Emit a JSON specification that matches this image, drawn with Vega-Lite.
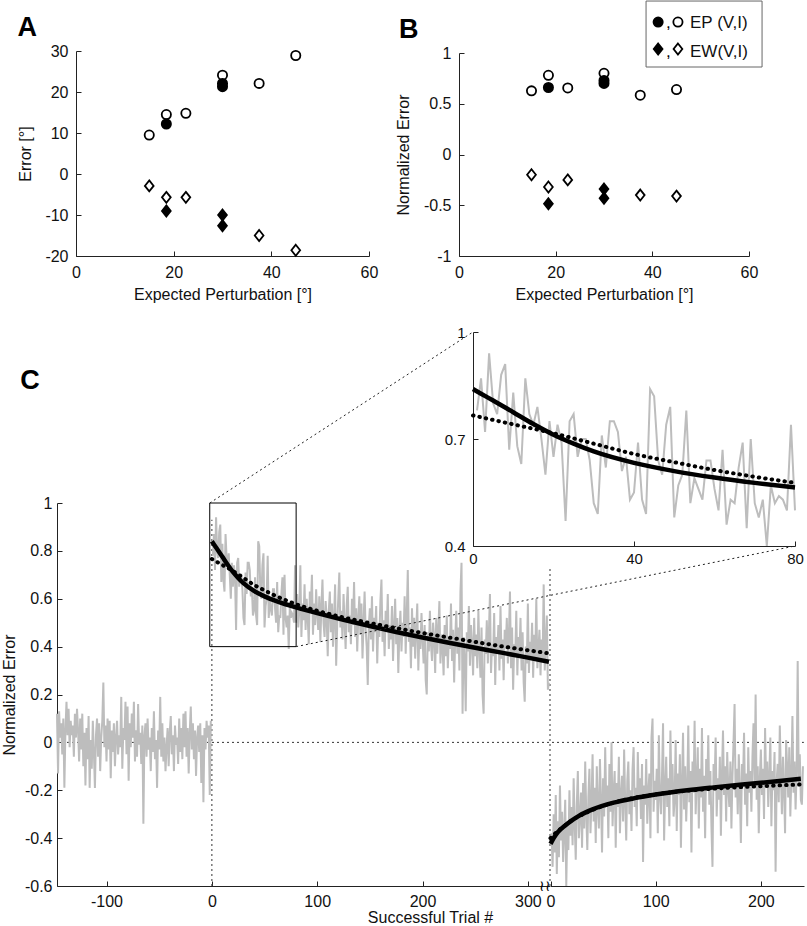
{
  "$schema": "https://vega.github.io/schema/vega-lite/v6.json",
  "width": 807,
  "height": 926,
  "padding": 0,
  "autosize": {"type": "none"},
  "background": "white",
  "config": {
    "view": {"stroke": null},
    "font": "Liberation Sans",
    "axis": {
      "grid": false,
      "domainColor": "#222222",
      "tickColor": "#222222",
      "tickSize": -5,
      "labelFont": "Liberation Sans",
      "labelFontSize": 16,
      "labelColor": "#111111",
      "titleFont": "Liberation Sans",
      "titleFontSize": 16,
      "titleFontWeight": "normal",
      "titleColor": "#111111",
      "labelPadding": 12,
      "labelOverlap": false,
      "labelFlush": false,
      "labelExpr": "datum.value + ''"
    }
  },
  "datasets": {
    "scatter": [
      {"expected": 15, "errorDeg": 9.5, "normalized": 0.627, "kind": "EP", "cond": "I"},
      {"expected": 18.5, "errorDeg": 14.5, "normalized": 0.78, "kind": "EP", "cond": "I"},
      {"expected": 22.5, "errorDeg": 14.8, "normalized": 0.656, "kind": "EP", "cond": "I"},
      {"expected": 30, "errorDeg": 24.1, "normalized": 0.8, "kind": "EP", "cond": "I"},
      {"expected": 37.5, "errorDeg": 22.1, "normalized": 0.584, "kind": "EP", "cond": "I"},
      {"expected": 45, "errorDeg": 28.9, "normalized": 0.64, "kind": "EP", "cond": "I"},
      {"expected": 15, "errorDeg": -2.9, "normalized": -0.2, "kind": "EW", "cond": "I"},
      {"expected": 18.5, "errorDeg": -5.7, "normalized": -0.32, "kind": "EW", "cond": "I"},
      {"expected": 22.5, "errorDeg": -5.7, "normalized": -0.25, "kind": "EW", "cond": "I"},
      {"expected": 37.5, "errorDeg": -15, "normalized": -0.4, "kind": "EW", "cond": "I"},
      {"expected": 45, "errorDeg": -18.6, "normalized": -0.41, "kind": "EW", "cond": "I"},
      {"expected": 18.5, "errorDeg": 12.2, "normalized": 0.66, "kind": "EP", "cond": "V"},
      {"expected": 30, "errorDeg": 22.1, "normalized": 0.73, "kind": "EP", "cond": "V"},
      {"expected": 30, "errorDeg": 21.3, "normalized": 0.7, "kind": "EP", "cond": "V"},
      {"expected": 18.5, "errorDeg": -9, "normalized": -0.486, "kind": "EW", "cond": "V"},
      {"expected": 30, "errorDeg": -10, "normalized": -0.34, "kind": "EW", "cond": "V"},
      {"expected": 30, "errorDeg": -12.6, "normalized": -0.43, "kind": "EW", "cond": "V"}
    ],
    "baseline": [
      {"trial":-147,"error":0.12},{"trial":-146,"error":-0.13},{"trial":-145,"error":0.13},{"trial":-144,"error":0.02},{"trial":-143,"error":0.08},{"trial":-142,"error":-0.05},{"trial":-141,"error":0.10},{"trial":-140,"error":-0.19},{"trial":-139,"error":0.05},{"trial":-138,"error":0.17},
      {"trial":-137,"error":0.03},{"trial":-136,"error":0.14},{"trial":-135,"error":-0.02},{"trial":-134,"error":0.09},{"trial":-133,"error":0.03},{"trial":-132,"error":0.07},{"trial":-131,"error":-0.06},{"trial":-130,"error":0.12},{"trial":-129,"error":0.02},{"trial":-128,"error":0.14},
      {"trial":-127,"error":0.05},{"trial":-126,"error":-0.08},{"trial":-125,"error":0.10},{"trial":-124,"error":-0.03},{"trial":-123,"error":0.12},{"trial":-122,"error":-0.10},{"trial":-121,"error":0.04},{"trial":-120,"error":-0.18},{"trial":-119,"error":0.06},{"trial":-118,"error":-0.07},
      {"trial":-117,"error":0.11},{"trial":-116,"error":-0.19},{"trial":-115,"error":0.01},{"trial":-114,"error":-0.11},{"trial":-113,"error":0.09},{"trial":-112,"error":-0.04},{"trial":-111,"error":-0.19},{"trial":-110,"error":0.03},{"trial":-109,"error":0.10},{"trial":-108,"error":-0.06},
      {"trial":-107,"error":0.08},{"trial":-106,"error":-0.12},{"trial":-105,"error":0.02},{"trial":-104,"error":0.09},{"trial":-103,"error":0.25},{"trial":-102,"error":-0.02},{"trial":-101,"error":0.07},{"trial":-100,"error":-0.08},{"trial":-99,"error":0.10},{"trial":-98,"error":-0.03},
      {"trial":-97,"error":0.09},{"trial":-96,"error":-0.15},{"trial":-95,"error":0.05},{"trial":-94,"error":-0.04},{"trial":-93,"error":0.08},{"trial":-92,"error":-0.10},{"trial":-91,"error":0.02},{"trial":-90,"error":0.09},{"trial":-89,"error":-0.05},{"trial":-88,"error":0.03},
      {"trial":-87,"error":-0.02},{"trial":-86,"error":0.19},{"trial":-85,"error":-0.11},{"trial":-84,"error":0.06},{"trial":-83,"error":0.01},{"trial":-82,"error":0.17},{"trial":-81,"error":-0.05},{"trial":-80,"error":0.15},{"trial":-79,"error":-0.16},{"trial":-78,"error":0.08},
      {"trial":-77,"error":-0.02},{"trial":-76,"error":0.12},{"trial":-75,"error":0.02},{"trial":-74,"error":0.17},{"trial":-73,"error":-0.08},{"trial":-72,"error":0.05},{"trial":-71,"error":-0.06},{"trial":-70,"error":0.16},{"trial":-69,"error":-0.01},{"trial":-68,"error":0.04},
      {"trial":-67,"error":-0.09},{"trial":-66,"error":0.07},{"trial":-65,"error":-0.34},{"trial":-64,"error":0.03},{"trial":-63,"error":0.08},{"trial":-62,"error":-0.06},{"trial":-61,"error":0.10},{"trial":-60,"error":-0.03},{"trial":-59,"error":0.02},{"trial":-58,"error":-0.12},
      {"trial":-57,"error":0.06},{"trial":-56,"error":-0.04},{"trial":-55,"error":0.13},{"trial":-54,"error":-0.07},{"trial":-53,"error":0.01},{"trial":-52,"error":-0.19},{"trial":-51,"error":0.05},{"trial":-50,"error":-0.03},{"trial":-49,"error":0.19},{"trial":-48,"error":-0.06},
      {"trial":-47,"error":0.08},{"trial":-46,"error":-0.08},{"trial":-45,"error":0.02},{"trial":-44,"error":-0.12},{"trial":-43,"error":-0.02},{"trial":-42,"error":0.06},{"trial":-41,"error":-0.10},{"trial":-40,"error":0.04},{"trial":-39,"error":0.11},{"trial":-38,"error":-0.05},
      {"trial":-37,"error":0.03},{"trial":-36,"error":-0.12},{"trial":-35,"error":0.07},{"trial":-34,"error":-0.01},{"trial":-33,"error":0.02},{"trial":-32,"error":-0.09},{"trial":-31,"error":0.10},{"trial":-30,"error":-0.04},{"trial":-29,"error":0.06},{"trial":-28,"error":-0.07},
      {"trial":-27,"error":0.12},{"trial":-26,"error":-0.02},{"trial":-25,"error":0.13},{"trial":-24,"error":-0.06},{"trial":-23,"error":0.06},{"trial":-22,"error":-0.13},{"trial":-21,"error":0.04},{"trial":-20,"error":0.15},{"trial":-19,"error":-0.03},{"trial":-18,"error":0.08},
      {"trial":-17,"error":-0.07},{"trial":-16,"error":0.05},{"trial":-15,"error":-0.14},{"trial":-14,"error":0.02},{"trial":-13,"error":0.07},{"trial":-12,"error":-0.04},{"trial":-11,"error":0.08},{"trial":-10,"error":-0.17},{"trial":-9,"error":0.03},{"trial":-8,"error":-0.25},
      {"trial":-7,"error":0.06},{"trial":-6,"error":-0.03},{"trial":-5,"error":0.09},{"trial":-4,"error":0.02},{"trial":-3,"error":0.07},{"trial":-2,"error":-0.22},{"trial":-1,"error":0.09}
    ],
    "learning": [
      {"trial":1,"error":0.78},{"trial":2,"error":0.87},{"trial":3,"error":0.72},{"trial":4,"error":0.94},{"trial":5,"error":0.80},{"trial":6,"error":0.77},{"trial":7,"error":0.88},{"trial":8,"error":0.91},{"trial":9,"error":0.67},{"trial":10,"error":0.83},
      {"trial":11,"error":0.68},{"trial":12,"error":0.63},{"trial":13,"error":0.87},{"trial":14,"error":0.77},{"trial":15,"error":0.74},{"trial":16,"error":0.79},{"trial":17,"error":0.70},{"trial":18,"error":0.60},{"trial":19,"error":0.75},{"trial":20,"error":0.65},
      {"trial":21,"error":0.74},{"trial":22,"error":0.69},{"trial":23,"error":0.47},{"trial":24,"error":0.75},{"trial":25,"error":0.77},{"trial":26,"error":0.65},{"trial":27,"error":0.70},{"trial":28,"error":0.70},{"trial":29,"error":0.64},{"trial":30,"error":0.52},
      {"trial":31,"error":0.49},{"trial":32,"error":0.71},{"trial":33,"error":0.62},{"trial":34,"error":0.75},{"trial":35,"error":0.75},{"trial":36,"error":0.72},{"trial":37,"error":0.61},{"trial":38,"error":0.65},{"trial":39,"error":0.53},{"trial":40,"error":0.55},
      {"trial":41,"error":0.69},{"trial":42,"error":0.53},{"trial":43,"error":0.49},{"trial":44,"error":0.84},{"trial":45,"error":0.82},{"trial":46,"error":0.64},{"trial":47,"error":0.60},{"trial":48,"error":0.74},{"trial":49,"error":0.79},{"trial":50,"error":0.48},
      {"trial":51,"error":0.57},{"trial":52,"error":0.60},{"trial":53,"error":0.78},{"trial":54,"error":0.52},{"trial":55,"error":0.59},{"trial":56,"error":0.56},{"trial":57,"error":0.53},{"trial":58,"error":0.64},{"trial":59,"error":0.64},{"trial":60,"error":0.56},
      {"trial":61,"error":0.50},{"trial":62,"error":0.67},{"trial":63,"error":0.46},{"trial":64,"error":0.53},{"trial":65,"error":0.52},{"trial":66,"error":0.62},{"trial":67,"error":0.69},{"trial":68,"error":0.45},{"trial":69,"error":0.70},{"trial":70,"error":0.52},
      {"trial":71,"error":0.48},{"trial":72,"error":0.53},{"trial":73,"error":0.39},{"trial":74,"error":0.57},{"trial":75,"error":0.52},{"trial":76,"error":0.54},{"trial":77,"error":0.53},{"trial":78,"error":0.50},{"trial":79,"error":0.74},{"trial":80,"error":0.50},
      {"trial":81,"error":0.62},{"trial":82,"error":0.48},{"trial":83,"error":0.55},{"trial":84,"error":0.74},{"trial":85,"error":0.44},{"trial":86,"error":0.58},{"trial":87,"error":0.51},{"trial":88,"error":0.66},{"trial":89,"error":0.47},{"trial":90,"error":0.60},
      {"trial":91,"error":0.52},{"trial":92,"error":0.41},{"trial":93,"error":0.63},{"trial":94,"error":0.56},{"trial":95,"error":0.70},{"trial":96,"error":0.45},{"trial":97,"error":0.58},{"trial":98,"error":0.49},{"trial":99,"error":0.64},{"trial":100,"error":0.53},
      {"trial":101,"error":0.47},{"trial":102,"error":0.61},{"trial":103,"error":0.42},{"trial":104,"error":0.57},{"trial":105,"error":0.68},{"trial":106,"error":0.50},{"trial":107,"error":0.44},{"trial":108,"error":0.59},{"trial":109,"error":0.52},{"trial":110,"error":0.36},
      {"trial":111,"error":0.55},{"trial":112,"error":0.63},{"trial":113,"error":0.46},{"trial":114,"error":0.58},{"trial":115,"error":0.40},{"trial":116,"error":0.52},{"trial":117,"error":0.66},{"trial":118,"error":0.32},{"trial":119,"error":0.49},{"trial":120,"error":0.60},
      {"trial":121,"error":0.71},{"trial":122,"error":0.48},{"trial":123,"error":0.55},{"trial":124,"error":0.43},{"trial":125,"error":0.62},{"trial":126,"error":0.50},{"trial":127,"error":0.39},{"trial":128,"error":0.57},{"trial":129,"error":0.65},{"trial":130,"error":0.46},
      {"trial":131,"error":0.53},{"trial":132,"error":0.41},{"trial":133,"error":0.60},{"trial":134,"error":0.49},{"trial":135,"error":0.67},{"trial":136,"error":0.44},{"trial":137,"error":0.56},{"trial":138,"error":0.38},{"trial":139,"error":0.52},{"trial":140,"error":0.61},
      {"trial":141,"error":0.45},{"trial":142,"error":0.58},{"trial":143,"error":0.35},{"trial":144,"error":0.50},{"trial":145,"error":0.63},{"trial":146,"error":0.47},{"trial":147,"error":0.40},{"trial":148,"error":0.24},{"trial":149,"error":0.49},{"trial":150,"error":0.56},
      {"trial":151,"error":0.43},{"trial":152,"error":0.61},{"trial":153,"error":0.38},{"trial":154,"error":0.52},{"trial":155,"error":0.46},{"trial":156,"error":0.57},{"trial":157,"error":0.33},{"trial":158,"error":0.50},{"trial":159,"error":0.44},{"trial":160,"error":0.59},
      {"trial":161,"error":0.68},{"trial":162,"error":0.42},{"trial":163,"error":0.51},{"trial":164,"error":0.36},{"trial":165,"error":0.55},{"trial":166,"error":0.47},{"trial":167,"error":0.62},{"trial":168,"error":0.39},{"trial":169,"error":0.49},{"trial":170,"error":0.43},
      {"trial":171,"error":0.57},{"trial":172,"error":0.34},{"trial":173,"error":0.48},{"trial":174,"error":0.60},{"trial":175,"error":0.41},{"trial":176,"error":0.52},{"trial":177,"error":0.29},{"trial":178,"error":0.46},{"trial":179,"error":0.55},{"trial":180,"error":0.38},
      {"trial":181,"error":0.50},{"trial":182,"error":0.44},{"trial":183,"error":0.61},{"trial":184,"error":0.37},{"trial":185,"error":0.53},{"trial":186,"error":0.72},{"trial":187,"error":0.42},{"trial":188,"error":0.48},{"trial":189,"error":0.31},{"trial":190,"error":0.56},
      {"trial":191,"error":0.40},{"trial":192,"error":0.52},{"trial":193,"error":0.35},{"trial":194,"error":0.47},{"trial":195,"error":0.58},{"trial":196,"error":0.30},{"trial":197,"error":0.45},{"trial":198,"error":0.39},{"trial":199,"error":0.54},{"trial":200,"error":0.43},
      {"trial":201,"error":0.33},{"trial":202,"error":0.49},{"trial":203,"error":0.26},{"trial":204,"error":0.20},{"trial":205,"error":0.46},{"trial":206,"error":0.38},{"trial":207,"error":0.55},{"trial":208,"error":0.41},{"trial":209,"error":0.34},{"trial":210,"error":0.50},
      {"trial":211,"error":0.44},{"trial":212,"error":0.29},{"trial":213,"error":0.52},{"trial":214,"error":0.37},{"trial":215,"error":0.47},{"trial":216,"error":0.59},{"trial":217,"error":0.33},{"trial":218,"error":0.45},{"trial":219,"error":0.40},{"trial":220,"error":0.28},
      {"trial":221,"error":0.49},{"trial":222,"error":0.36},{"trial":223,"error":0.53},{"trial":224,"error":0.31},{"trial":225,"error":0.44},{"trial":226,"error":0.39},{"trial":227,"error":0.58},{"trial":228,"error":0.34},{"trial":229,"error":0.47},{"trial":230,"error":0.25},
      {"trial":231,"error":0.43},{"trial":232,"error":0.55},{"trial":233,"error":0.37},{"trial":234,"error":0.48},{"trial":235,"error":0.30},{"trial":236,"error":0.63},{"trial":237,"error":0.75},{"trial":238,"error":0.12},{"trial":239,"error":0.44},{"trial":240,"error":0.35},
      {"trial":241,"error":0.13},{"trial":242,"error":0.46},{"trial":243,"error":0.38},{"trial":244,"error":0.57},{"trial":245,"error":0.32},{"trial":246,"error":0.49},{"trial":247,"error":0.41},{"trial":248,"error":0.28},{"trial":249,"error":0.52},{"trial":250,"error":0.36},
      {"trial":251,"error":0.45},{"trial":252,"error":0.31},{"trial":253,"error":0.55},{"trial":254,"error":0.39},{"trial":255,"error":0.27},{"trial":256,"error":0.48},{"trial":257,"error":0.20},{"trial":258,"error":0.12},{"trial":259,"error":0.43},{"trial":260,"error":0.37},
      {"trial":261,"error":0.51},{"trial":262,"error":0.33},{"trial":263,"error":0.46},{"trial":264,"error":0.62},{"trial":265,"error":0.29},{"trial":266,"error":0.41},{"trial":267,"error":0.36},{"trial":268,"error":0.54},{"trial":269,"error":0.24},{"trial":270,"error":0.44},
      {"trial":271,"error":0.38},{"trial":272,"error":0.49},{"trial":273,"error":0.30},{"trial":274,"error":0.57},{"trial":275,"error":0.35},{"trial":276,"error":0.43},{"trial":277,"error":0.26},{"trial":278,"error":0.47},{"trial":279,"error":0.39},{"trial":280,"error":0.52},
      {"trial":281,"error":0.33},{"trial":282,"error":0.45},{"trial":283,"error":0.63},{"trial":284,"error":0.31},{"trial":285,"error":0.48},{"trial":286,"error":0.22},{"trial":287,"error":0.41},{"trial":288,"error":0.36},{"trial":289,"error":0.55},{"trial":290,"error":0.28},
      {"trial":291,"error":0.44},{"trial":292,"error":0.37},{"trial":293,"error":0.52},{"trial":294,"error":0.30},{"trial":295,"error":0.46},{"trial":296,"error":0.25},{"trial":297,"error":0.17},{"trial":298,"error":0.40},{"trial":299,"error":0.33},{"trial":300,"error":0.58},
      {"trial":301,"error":0.29},{"trial":302,"error":0.42},{"trial":303,"error":0.36},{"trial":304,"error":0.50},{"trial":305,"error":0.27},{"trial":306,"error":0.45},{"trial":307,"error":0.34},{"trial":308,"error":0.60},{"trial":309,"error":0.31},{"trial":310,"error":0.39},
      {"trial":311,"error":0.47},{"trial":312,"error":0.28},{"trial":313,"error":0.43},{"trial":314,"error":0.35},{"trial":315,"error":0.66},{"trial":316,"error":0.30},{"trial":317,"error":0.41},{"trial":318,"error":0.53},{"trial":319,"error":0.22},{"trial":320,"error":0.25}
    ],
    "washout": [
      {"trial":1,"error":-0.38},{"trial":2,"error":-0.52},{"trial":3,"error":-0.30},{"trial":4,"error":-0.46},{"trial":5,"error":-0.22},{"trial":6,"error":-0.55},{"trial":7,"error":-0.33},{"trial":8,"error":-0.48},{"trial":9,"error":-0.18},{"trial":10,"error":-0.41},
      {"trial":11,"error":-0.29},{"trial":12,"error":-0.50},{"trial":13,"error":-0.37},{"trial":14,"error":-0.24},{"trial":15,"error":-0.60},{"trial":16,"error":-0.35},{"trial":17,"error":-0.45},{"trial":18,"error":-0.20},{"trial":19,"error":-0.39},{"trial":20,"error":-0.27},
      {"trial":21,"error":-0.43},{"trial":22,"error":-0.15},{"trial":23,"error":-0.34},{"trial":24,"error":-0.49},{"trial":25,"error":-0.26},{"trial":26,"error":-0.12},{"trial":27,"error":-0.40},{"trial":28,"error":-0.31},{"trial":29,"error":-0.21},{"trial":30,"error":-0.44},
      {"trial":31,"error":-0.17},{"trial":32,"error":-0.36},{"trial":33,"error":-0.08},{"trial":34,"error":-0.30},{"trial":35,"error":-0.45},{"trial":36,"error":-0.23},{"trial":37,"error":-0.11},{"trial":38,"error":-0.38},{"trial":39,"error":-0.25},{"trial":40,"error":-0.05},
      {"trial":41,"error":-0.33},{"trial":42,"error":-0.19},{"trial":43,"error":-0.42},{"trial":44,"error":-0.10},{"trial":45,"error":-0.28},{"trial":46,"error":-0.36},{"trial":47,"error":-0.07},{"trial":48,"error":-0.24},{"trial":49,"error":-0.46},{"trial":50,"error":-0.15},
      {"trial":51,"error":-0.31},{"trial":52,"error":-0.02},{"trial":53,"error":-0.26},{"trial":54,"error":-0.18},{"trial":55,"error":-0.40},{"trial":56,"error":-0.09},{"trial":57,"error":-0.29},{"trial":58,"error":0.00},{"trial":59,"error":-0.35},{"trial":60,"error":-0.21},
      {"trial":61,"error":-0.12},{"trial":62,"error":-0.44},{"trial":63,"error":-0.17},{"trial":64,"error":-0.27},{"trial":65,"error":-0.06},{"trial":66,"error":-0.38},{"trial":67,"error":-0.22},{"trial":68,"error":-0.14},{"trial":69,"error":-0.33},{"trial":70,"error":-0.03},
      {"trial":71,"error":-0.25},{"trial":72,"error":-0.41},{"trial":73,"error":-0.16},{"trial":74,"error":-0.08},{"trial":75,"error":-0.30},{"trial":76,"error":-0.20},{"trial":77,"error":-0.37},{"trial":78,"error":-0.11},{"trial":79,"error":-0.02},{"trial":80,"error":-0.27},
      {"trial":81,"error":-0.19},{"trial":82,"error":-0.35},{"trial":83,"error":-0.04},{"trial":84,"error":-0.23},{"trial":85,"error":-0.15},{"trial":86,"error":-0.32},{"trial":87,"error":-0.09},{"trial":88,"error":-0.50},{"trial":89,"error":-0.18},{"trial":90,"error":-0.26},
      {"trial":91,"error":-0.07},{"trial":92,"error":-0.34},{"trial":93,"error":-0.21},{"trial":94,"error":-0.13},{"trial":95,"error":-0.40},{"trial":96,"error":0.02},{"trial":97,"error":0.10},{"trial":98,"error":-0.29},{"trial":99,"error":-0.16},{"trial":100,"error":-0.24},
      {"trial":101,"error":-0.11},{"trial":102,"error":-0.38},{"trial":103,"error":0.03},{"trial":104,"error":-0.22},{"trial":105,"error":-0.30},{"trial":106,"error":-0.14},{"trial":107,"error":0.08},{"trial":108,"error":-0.41},{"trial":109,"error":-0.19},{"trial":110,"error":-0.06},
      {"trial":111,"error":-0.27},{"trial":112,"error":-0.15},{"trial":113,"error":-0.35},{"trial":114,"error":0.05},{"trial":115,"error":-0.20},{"trial":116,"error":-0.09},{"trial":117,"error":-0.31},{"trial":118,"error":-0.24},{"trial":119,"error":0.01},{"trial":120,"error":-0.37},
      {"trial":121,"error":-0.13},{"trial":122,"error":-0.22},{"trial":123,"error":-0.05},{"trial":124,"error":-0.44},{"trial":125,"error":-0.17},{"trial":126,"error":0.04},{"trial":127,"error":-0.28},{"trial":128,"error":-0.10},{"trial":129,"error":-0.33},{"trial":130,"error":-0.19},
      {"trial":131,"error":0.07},{"trial":132,"error":-0.25},{"trial":133,"error":-0.12},{"trial":134,"error":-0.46},{"trial":135,"error":-0.08},{"trial":136,"error":-0.21},{"trial":137,"error":0.09},{"trial":138,"error":-0.30},{"trial":139,"error":-0.16},{"trial":140,"error":-0.02},
      {"trial":141,"error":-0.36},{"trial":142,"error":-0.11},{"trial":143,"error":-0.23},{"trial":144,"error":0.06},{"trial":145,"error":-0.29},{"trial":146,"error":-0.14},{"trial":147,"error":-0.40},{"trial":148,"error":-0.07},{"trial":149,"error":-0.20},{"trial":150,"error":0.03},
      {"trial":151,"error":-0.26},{"trial":152,"error":-0.12},{"trial":153,"error":-0.35},{"trial":154,"error":-0.52},{"trial":155,"error":-0.09},{"trial":156,"error":-0.18},{"trial":157,"error":0.02},{"trial":158,"error":-0.31},{"trial":159,"error":-0.15},{"trial":160,"error":-0.24},
      {"trial":161,"error":-0.06},{"trial":162,"error":-0.39},{"trial":163,"error":-0.13},{"trial":164,"error":0.05},{"trial":165,"error":-0.22},{"trial":166,"error":-0.10},{"trial":167,"error":-0.33},{"trial":168,"error":-0.04},{"trial":169,"error":-0.19},{"trial":170,"error":-0.27},
      {"trial":171,"error":-0.08},{"trial":172,"error":-0.36},{"trial":173,"error":-0.14},{"trial":174,"error":0.00},{"trial":175,"error":0.16},{"trial":176,"error":-0.23},{"trial":177,"error":-0.11},{"trial":178,"error":-0.30},{"trial":179,"error":-0.05},{"trial":180,"error":-0.20},
      {"trial":181,"error":-0.42},{"trial":182,"error":-0.09},{"trial":183,"error":-0.17},{"trial":184,"error":0.04},{"trial":185,"error":-0.26},{"trial":186,"error":-0.13},{"trial":187,"error":-0.35},{"trial":188,"error":-0.02},{"trial":189,"error":-0.21},{"trial":190,"error":-0.12},
      {"trial":191,"error":-0.29},{"trial":192,"error":-0.06},{"trial":193,"error":0.08},{"trial":194,"error":-0.18},{"trial":195,"error":0.20},{"trial":196,"error":-0.24},{"trial":197,"error":-0.10},{"trial":198,"error":-0.38},{"trial":199,"error":-0.15},{"trial":200,"error":-0.03},
      {"trial":201,"error":-0.22},{"trial":202,"error":-0.11},{"trial":203,"error":-0.32},{"trial":204,"error":0.06},{"trial":205,"error":-0.17},{"trial":206,"error":-0.08},{"trial":207,"error":-0.27},{"trial":208,"error":-0.14},{"trial":209,"error":0.02},{"trial":210,"error":-0.35},
      {"trial":211,"error":-0.12},{"trial":212,"error":-0.20},{"trial":213,"error":-0.04},{"trial":214,"error":-0.54},{"trial":215,"error":-0.16},{"trial":216,"error":-0.09},{"trial":217,"error":-0.25},{"trial":218,"error":0.07},{"trial":219,"error":-0.13},{"trial":220,"error":-0.30},
      {"trial":221,"error":-0.06},{"trial":222,"error":-0.19},{"trial":223,"error":-0.38},{"trial":224,"error":0.01},{"trial":225,"error":-0.11},{"trial":226,"error":-0.23},{"trial":227,"error":-0.02},{"trial":228,"error":-0.31},{"trial":229,"error":-0.14},{"trial":230,"error":0.11},
      {"trial":231,"error":-0.21},{"trial":232,"error":-0.08},{"trial":233,"error":-0.28},{"trial":234,"error":-0.12},{"trial":235,"error":0.34},{"trial":236,"error":-0.17},{"trial":237,"error":-0.05},{"trial":238,"error":-0.24},{"trial":239,"error":-0.26},{"trial":240,"error":-0.10}
    ],
    "learningFit": [
      {"fit":"fit1","trial":0,"error":0.84},{"fit":"fit1","trial":2,"error":0.827},{"fit":"fit1","trial":5,"error":0.808},{"fit":"fit1","trial":10,"error":0.775},{"fit":"fit1","trial":15,"error":0.742},{"fit":"fit1","trial":20,"error":0.712},{"fit":"fit1","trial":25,"error":0.687},{"fit":"fit1","trial":30,"error":0.665},{"fit":"fit1","trial":40,"error":0.633},{"fit":"fit1","trial":50,"error":0.61},{"fit":"fit1","trial":60,"error":0.592},{"fit":"fit1","trial":70,"error":0.577},{"fit":"fit1","trial":80,"error":0.564},{"fit":"fit1","trial":100,"error":0.54},{"fit":"fit1","trial":125,"error":0.512},{"fit":"fit1","trial":150,"error":0.486},{"fit":"fit1","trial":175,"error":0.461},{"fit":"fit1","trial":200,"error":0.438},{"fit":"fit1","trial":225,"error":0.416},{"fit":"fit1","trial":250,"error":0.395},{"fit":"fit1","trial":275,"error":0.375},{"fit":"fit1","trial":300,"error":0.354},{"fit":"fit1","trial":320,"error":0.337},
      {"fit":"fit2","trial":0,"error":0.766},{"fit":"fit2","trial":10,"error":0.741},{"fit":"fit2","trial":20,"error":0.716},{"fit":"fit2","trial":30,"error":0.687},{"fit":"fit2","trial":40,"error":0.658},{"fit":"fit2","trial":50,"error":0.635},{"fit":"fit2","trial":60,"error":0.613},{"fit":"fit2","trial":70,"error":0.594},{"fit":"fit2","trial":80,"error":0.577},{"fit":"fit2","trial":100,"error":0.55},{"fit":"fit2","trial":120,"error":0.527},{"fit":"fit2","trial":160,"error":0.49},{"fit":"fit2","trial":200,"error":0.457},{"fit":"fit2","trial":240,"error":0.427},{"fit":"fit2","trial":280,"error":0.398},{"fit":"fit2","trial":320,"error":0.372}
    ],
    "washoutFit": [
      {"fit":"fit1","trial":0,"error":-0.424},{"fit":"fit1","trial":3,"error":-0.4},{"fit":"fit1","trial":7,"error":-0.375},{"fit":"fit1","trial":14,"error":-0.347},{"fit":"fit1","trial":20,"error":-0.327},{"fit":"fit1","trial":27,"error":-0.307},{"fit":"fit1","trial":40,"error":-0.28},{"fit":"fit1","trial":60,"error":-0.252},{"fit":"fit1","trial":80,"error":-0.233},{"fit":"fit1","trial":100,"error":-0.218},{"fit":"fit1","trial":130,"error":-0.2},{"fit":"fit1","trial":155,"error":-0.188},{"fit":"fit1","trial":180,"error":-0.177},{"fit":"fit1","trial":200,"error":-0.169},{"fit":"fit1","trial":220,"error":-0.16},{"fit":"fit1","trial":238,"error":-0.152},
      {"fit":"fit2","trial":0,"error":-0.4},{"fit":"fit2","trial":5,"error":-0.378},{"fit":"fit2","trial":10,"error":-0.36},{"fit":"fit2","trial":20,"error":-0.327},{"fit":"fit2","trial":40,"error":-0.282},{"fit":"fit2","trial":60,"error":-0.252},{"fit":"fit2","trial":100,"error":-0.217},{"fit":"fit2","trial":150,"error":-0.195},{"fit":"fit2","trial":200,"error":-0.183},{"fit":"fit2","trial":238,"error":-0.176}
    ]
  },
  "layer": [
    {
      "data": {"name": "scatter"},
      "layer": [
        {
          "mark": {"type": "point", "filled": true, "stroke": "#000000", "strokeWidth": 1.8, "size": 85, "opacity": 1},
          "encoding": {
            "x": {"field": "expected", "type": "quantitative",
              "scale": {"domain": [0, 60], "range": [76, 369], "nice": false, "zero": false},
              "axis": {"orient": "bottom", "offset": -670, "values": [0, 20, 40, 60], "title": "Expected Perturbation [°]", "labelPadding": 13, "titlePadding": 6}},
            "y": {"field": "errorDeg", "type": "quantitative",
              "scale": {"domain": [-20, 30], "range": [256, 51], "nice": false, "zero": false},
              "axis": {"orient": "left", "offset": -76, "values": [-20, -10, 0, 10, 20, 30], "title": "Error [°]", "labelPadding": 13, "titlePadding": 11}},
            "shape": {"field": "kind", "type": "nominal", "scale": {"domain": ["EP", "EW"], "range": ["circle", "M0,-1.2L0.95,0L0,1.2L-0.95,0Z"]}, "legend": null},
            "fill": {"field": "cond", "type": "nominal", "scale": {"domain": ["V", "I"], "range": ["#000000", "#ffffff"]}, "legend": null}
          }
        },
        {
          "data": {"values": [{}]},
          "mark": {"type": "text", "text": "A", "fontSize": 27, "fontWeight": "bold", "align": "center", "baseline": "middle", "color": "#000000"},
          "encoding": {"x": {"datum": -10}, "y": {"datum": 35.6}}
        }
      ]
    },
    {
      "data": {"name": "scatter"},
      "layer": [
        {
          "mark": {"type": "point", "filled": true, "stroke": "#000000", "strokeWidth": 1.8, "size": 85, "opacity": 1},
          "encoding": {
            "x": {"field": "expected", "type": "quantitative",
              "scale": {"domain": [0, 60], "range": [459, 749], "nice": false, "zero": false},
              "axis": {"orient": "bottom", "offset": -670, "values": [0, 20, 40, 60], "title": "Expected Perturbation [°]", "labelPadding": 13, "titlePadding": 6}},
            "y": {"field": "normalized", "type": "quantitative",
              "scale": {"domain": [-1, 1], "range": [256, 53], "nice": false, "zero": false},
              "axis": {"orient": "left", "offset": -459, "values": [-1, -0.5, 0, 0.5, 1], "title": "Normalized Error", "labelPadding": 13, "titlePadding": 12}},
            "shape": {"field": "kind", "type": "nominal", "scale": {"domain": ["EP", "EW"], "range": ["circle", "M0,-1.2L0.95,0L0,1.2L-0.95,0Z"]}, "legend": null},
            "fill": {"field": "cond", "type": "nominal", "scale": {"domain": ["V", "I"], "range": ["#000000", "#ffffff"]}, "legend": null}
          }
        },
        {
          "data": {"values": [{}]},
          "mark": {"type": "text", "text": "B", "fontSize": 27, "fontWeight": "bold", "align": "center", "baseline": "middle", "color": "#000000"},
          "encoding": {"x": {"datum": -10.4}, "y": {"datum": 1.23}}
        },
        {
          "data": {"values": [{}]},
          "mark": {"type": "rect", "fill": "#ffffff", "stroke": "#666666", "strokeWidth": 1},
          "encoding": {"x": {"datum": 38.7}, "x2": {"datum": 62.7}, "y": {"datum": 1.512}, "y2": {"datum": 0.862}}
        },
        {
          "data": {"values": [{"kind": "EP", "cond": "V"}]},
          "mark": {"type": "point", "filled": true, "stroke": "#000000", "strokeWidth": 1.8, "size": 85, "opacity": 1},
          "encoding": {"x": {"datum": 41.2}, "y": {"datum": 1.305},
            "shape": {"field": "kind", "type": "nominal", "legend": null}, "fill": {"field": "cond", "type": "nominal", "legend": null}}
        },
        {
          "data": {"values": [{"kind": "EP", "cond": "I"}]},
          "mark": {"type": "point", "filled": true, "stroke": "#000000", "strokeWidth": 1.8, "size": 85, "opacity": 1},
          "encoding": {"x": {"datum": 45.3}, "y": {"datum": 1.305},
            "shape": {"field": "kind", "type": "nominal", "legend": null}, "fill": {"field": "cond", "type": "nominal", "legend": null}}
        },
        {
          "data": {"values": [{"kind": "EW", "cond": "V"}]},
          "mark": {"type": "point", "filled": true, "stroke": "#000000", "strokeWidth": 1.8, "size": 85, "opacity": 1},
          "encoding": {"x": {"datum": 41.2}, "y": {"datum": 1.039},
            "shape": {"field": "kind", "type": "nominal", "legend": null}, "fill": {"field": "cond", "type": "nominal", "legend": null}}
        },
        {
          "data": {"values": [{"kind": "EW", "cond": "I"}]},
          "mark": {"type": "point", "filled": true, "stroke": "#000000", "strokeWidth": 1.8, "size": 85, "opacity": 1},
          "encoding": {"x": {"datum": 45.3}, "y": {"datum": 1.039},
            "shape": {"field": "kind", "type": "nominal", "legend": null}, "fill": {"field": "cond", "type": "nominal", "legend": null}}
        },
        {
          "data": {"values": [{"label": ","}]},
          "mark": {"type": "text", "fontSize": 17, "align": "center", "baseline": "alphabetic", "color": "#000000"},
          "encoding": {"x": {"datum": 43.3}, "y": {"datum": 1.246}, "text": {"field": "label"}}
        },
        {
          "data": {"values": [{"label": ","}]},
          "mark": {"type": "text", "fontSize": 17, "align": "center", "baseline": "alphabetic", "color": "#000000"},
          "encoding": {"x": {"datum": 43.3}, "y": {"datum": 0.9655}, "text": {"field": "label"}}
        },
        {
          "data": {"values": [{"label": "EP (V,I)"}]},
          "mark": {"type": "text", "fontSize": 17, "align": "left", "baseline": "alphabetic", "color": "#111111"},
          "encoding": {"x": {"datum": 47.8}, "y": {"datum": 1.246}, "text": {"field": "label"}}
        },
        {
          "data": {"values": [{"label": "EW(V,I)"}]},
          "mark": {"type": "text", "fontSize": 17, "align": "left", "baseline": "alphabetic", "color": "#111111"},
          "encoding": {"x": {"datum": 47.8}, "y": {"datum": 0.9655}, "text": {"field": "label"}}
        }
      ]
    },
    {
      "layer": [
        {
          "layer": [
            {
              "data": {"values": [{}]},
              "mark": {"type": "rule", "color": "#333333", "strokeWidth": 1, "strokeDash": [2, 3]},
              "encoding": {
                "y": {"datum": 0, "scale": {"domain": [-0.6, 1], "range": [886, 503], "nice": false, "zero": false},
                  "axis": {"orient": "left", "offset": -57, "values": [-0.6, -0.4, -0.2, 0, 0.2, 0.4, 0.6, 0.8, 1], "title": "Normalized Error", "labelPadding": 10, "titlePadding": 7}},
                "x": {"datum": -147, "scale": {"domain": [-147, 321], "range": [57, 550], "nice": false, "zero": false},
                  "axis": {"orient": "bottom", "offset": -40, "values": [-100, 0, 100, 200, 300], "title": "Successful Trial #", "titleX": 430, "titleFontSize": 16, "labelPadding": 12, "titlePadding": 0}},
                "x2": {"datum": 562}
              }
            },
            {
              "data": {"values": [{}]},
              "mark": {"type": "rule", "color": "#555555", "strokeWidth": 1.2, "strokeDash": [2, 3]},
              "encoding": {"x": {"datum": 0}, "y": {"datum": -0.6}, "y2": {"datum": 0.93}}
            },
            {
              "data": {"values": [{}]},
              "mark": {"type": "rule", "color": "#555555", "strokeWidth": 1.2, "strokeDash": [2, 3]},
              "encoding": {"x": {"datum": 321}, "y": {"datum": -0.6}, "y2": {"datum": 0.73}}
            },
            {
              "data": {"name": "baseline"},
              "mark": {"type": "line", "color": "#bdbdbd", "strokeWidth": 2},
              "encoding": {"x": {"field": "trial", "type": "quantitative"}, "y": {"field": "error", "type": "quantitative"}}
            },
            {
              "data": {"name": "learning"},
              "mark": {"type": "line", "color": "#bdbdbd", "strokeWidth": 2},
              "encoding": {"x": {"field": "trial", "type": "quantitative"}, "y": {"field": "error", "type": "quantitative"}}
            },
            {
              "data": {"name": "learningFit"},
              "transform": [{"filter": "datum.fit == 'fit2'"}],
              "mark": {"type": "line", "color": "#000000", "strokeWidth": 4, "strokeDash": [0.5, 6], "strokeCap": "round", "interpolate": "monotone"},
              "encoding": {"x": {"field": "trial", "type": "quantitative"}, "y": {"field": "error", "type": "quantitative"}}
            },
            {
              "data": {"name": "learningFit"},
              "transform": [{"filter": "datum.fit == 'fit1'"}],
              "mark": {"type": "line", "color": "#000000", "strokeWidth": 4.5, "interpolate": "monotone"},
              "encoding": {"x": {"field": "trial", "type": "quantitative"}, "y": {"field": "error", "type": "quantitative"}}
            },
            {
              "data": {"values": [{}]},
              "mark": {"type": "rect", "filled": false, "color": "#000000", "stroke": "#000000", "strokeWidth": 1},
              "encoding": {"x": {"datum": -2}, "x2": {"datum": 80}, "y": {"datum": 1}, "y2": {"datum": 0.4}}
            },
            {
              "data": {"values": [{}]},
              "mark": {"type": "rule", "color": "#222222", "strokeWidth": 1, "strokeDash": [2, 3]},
              "encoding": {"x": {"datum": -2}, "y": {"datum": 1}, "x2": {"datum": 247.9}, "y2": {"datum": 1.7144}}
            },
            {
              "data": {"values": [{}]},
              "mark": {"type": "rule", "color": "#222222", "strokeWidth": 1, "strokeDash": [2, 3]},
              "encoding": {"x": {"datum": 80}, "y": {"datum": 0.4}, "x2": {"datum": 553.6}, "y2": {"datum": 0.8204}}
            },
            {
              "data": {"values": [{}]},
              "mark": {"type": "text", "text": "C", "fontSize": 27, "fontWeight": "bold", "align": "center", "baseline": "middle", "color": "#000000"},
              "encoding": {"x": {"datum": -172.6}, "y": {"datum": 1.51}}
            },
            {
              "data": {"values": [{}]},
              "mark": {"type": "text", "text": "≀≀", "fontSize": 15, "align": "center", "baseline": "middle", "color": "#000000"},
              "encoding": {"x": {"datum": 316.3}, "y": {"datum": -0.598}}
            }
          ]
        },
        {
          "layer": [
            {
              "data": {"name": "washout"},
              "mark": {"type": "line", "color": "#bdbdbd", "strokeWidth": 2},
              "encoding": {
                "x": {"field": "trial", "type": "quantitative",
                  "scale": {"domain": [0, 241], "range": [550.5, 804], "nice": false, "zero": false},
                  "axis": {"orient": "bottom", "offset": -40, "values": [0, 100, 200], "title": null, "labelPadding": 12}},
                "y": {"field": "error", "type": "quantitative", "scale": {"domain": [-0.6, 1], "range": [886, 503], "nice": false, "zero": false}}
              }
            },
            {
              "data": {"name": "washoutFit"},
              "transform": [{"filter": "datum.fit == 'fit2'"}],
              "mark": {"type": "line", "color": "#000000", "strokeWidth": 4, "strokeDash": [0.5, 6], "strokeCap": "round", "interpolate": "monotone"},
              "encoding": {"x": {"field": "trial", "type": "quantitative"}, "y": {"field": "error", "type": "quantitative"}}
            },
            {
              "data": {"name": "washoutFit"},
              "transform": [{"filter": "datum.fit == 'fit1'"}],
              "mark": {"type": "line", "color": "#000000", "strokeWidth": 4.5, "interpolate": "monotone"},
              "encoding": {"x": {"field": "trial", "type": "quantitative"}, "y": {"field": "error", "type": "quantitative"}}
            }
          ]
        }
      ],
      "resolve": {"scale": {"x": "independent"}, "axis": {"x": "independent"}}
    },
    {
      "layer": [
        {
          "data": {"name": "learning"},
          "transform": [{"filter": "datum.trial <= 80"}],
          "mark": {"type": "line", "color": "#bdbdbd", "strokeWidth": 2},
          "encoding": {
            "x": {"field": "trial", "type": "quantitative",
              "scale": {"domain": [0, 80], "range": [473, 795], "nice": false, "zero": false},
              "axis": {"orient": "bottom", "offset": -380, "values": [0, 40, 80], "title": null, "labelPadding": 10, "labelFontSize": 15}},
            "y": {"field": "error", "type": "quantitative",
              "scale": {"domain": [0.4, 1], "range": [546, 332], "nice": false, "zero": false, "clamp": true},
              "axis": {"orient": "left", "offset": -473, "values": [0.4, 0.7, 1], "title": null, "labelPadding": 13, "labelFontSize": 15}}
          }
        },
        {
          "data": {"name": "learningFit"},
          "transform": [{"filter": "datum.fit == 'fit2' && datum.trial <= 80"}],
          "mark": {"type": "line", "color": "#000000", "strokeWidth": 4, "strokeDash": [0.5, 6], "strokeCap": "round", "interpolate": "monotone"},
          "encoding": {"x": {"field": "trial", "type": "quantitative"}, "y": {"field": "error", "type": "quantitative"}}
        },
        {
          "data": {"name": "learningFit"},
          "transform": [{"filter": "datum.fit == 'fit1' && datum.trial <= 80"}],
          "mark": {"type": "line", "color": "#000000", "strokeWidth": 4.5, "interpolate": "monotone"},
          "encoding": {"x": {"field": "trial", "type": "quantitative"}, "y": {"field": "error", "type": "quantitative"}}
        }
      ]
    }
  ],
  "resolve": {"scale": {"x": "independent", "y": "independent"}, "axis": {"x": "independent", "y": "independent"}}
}
